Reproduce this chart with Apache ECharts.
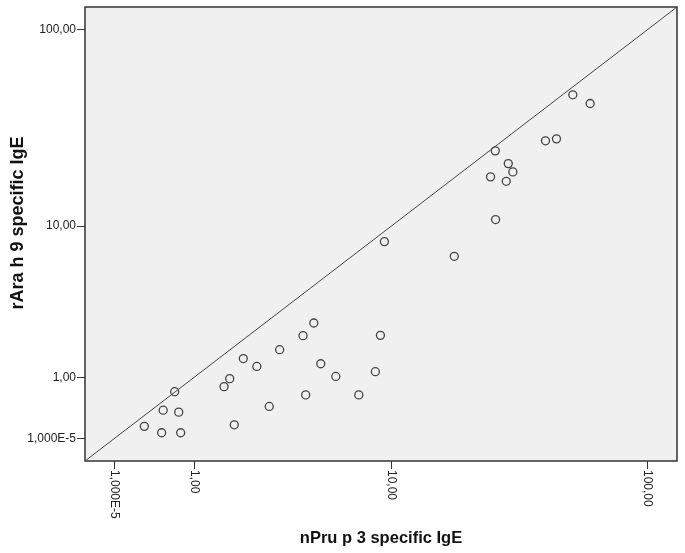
<!DOCTYPE html>
<html>
<head>
<meta charset="utf-8">
<script src="https://cdn.jsdelivr.net/npm/echarts@6/dist/echarts.min.js"></script>
<style>
html,body{margin:0;padding:0;background:#fff;}
#c{width:685px;height:553px;}
</style>
</head>
<body>
<div id="c"></div>
<script>
// Raw values (nPru p 3 sIgE on x, rAra h 9 sIgE on y)
var nPruP3 = [0.30, 0.51, 0.78, 0.53, 0.75, 0.69, 1.59, 1.72, 1.83, 2.06, 2.44, 2.83, 3.19, 4.13, 4.63, 4.98, 4.25, 5.81, 7.31, 8.59, 9.02, 9.37, 17.98, 26.06, 29.28, 30.50, 24.98, 28.76, 26.13, 40.78, 44.95, 51.91, 60.48];
var rAraH9 = [0.15, 0.07, 0.07, 0.38, 0.35, 0.70, 0.80, 0.97, 0.17, 1.47, 1.26, 0.44, 1.73, 2.20, 2.69, 1.33, 0.64, 1.02, 0.64, 1.13, 2.21, 8.24, 6.83, 24.72, 21.28, 19.29, 18.18, 17.25, 10.85, 27.80, 28.45, 47.39, 42.87];
var tickValues = [0.00001, 1, 10, 100];
var tickLabels = ['1,000E-5', '1,00', '10,00', '100,00'];

// SPSS-style safe log scale: log10(v + 1)
function tf(v) { return Math.log(v + 1) / Math.LN10; }
var axisMin = -0.109, axisMax = 2.115;

var points = nPruP3.map(function (x, i) { return [tf(x), tf(rAraH9[i])]; });
var tickPos = tickValues.map(tf);
function fmt(v) {
  var best = 0, d = Infinity;
  for (var i = 0; i < tickPos.length; i++) {
    var dd = Math.abs(tickPos[i] - v);
    if (dd < d) { d = dd; best = i; }
  }
  return tickLabels[best];
}

var font = '"Liberation Sans", Arial, sans-serif';
function axisCfg(rot, margin) {
  return {
    type: 'value', min: axisMin, max: axisMax,
    splitLine: { show: false },
    axisLine: { show: false, onZero: false },
    axisTick: { show: true, inside: false, length: 8, customValues: tickPos, lineStyle: { color: '#333', width: 1 } },
    axisLabel: { show: true, customValues: tickPos, formatter: fmt, rotate: rot, margin: margin, color: '#222', fontSize: 12, fontFamily: font }
  };
}

var chart = echarts.init(document.getElementById('c'), null, { renderer: 'canvas' });
chart.setOption({
  animation: false,
  backgroundColor: '#fff',
  grid: { left: 85, right: 8, top: 7, bottom: 92, show: true, backgroundColor: '#f0f0f0', borderColor: '#333', borderWidth: 1.5 },
  xAxis: axisCfg(-90, 9),
  yAxis: axisCfg(0, 9),
  graphic: [
    { type: 'text', x: 381, y: 538, style: { text: 'nPru p 3 specific IgE', font: 'bold 16.5px ' + font, fill: '#111', align: 'center', verticalAlign: 'middle' } },
    { type: 'text', x: 18, y: 223, rotation: Math.PI / 2, style: { text: 'rAra h 9 specific IgE', font: 'bold 18px ' + font, fill: '#111', align: 'center', verticalAlign: 'middle' } }
  ],
  series: [
    { type: 'line', data: [[axisMin, axisMin], [axisMax, axisMax]], symbol: 'none', lineStyle: { color: '#444', width: 1 }, silent: true, z: 1 },
    { type: 'scatter', data: points, symbol: 'circle', symbolSize: 8, itemStyle: { color: 'rgba(0,0,0,0)', borderColor: '#444', borderWidth: 1.3, opacity: 1 }, z: 2 }
  ]
});
</script>
</body>
</html>
